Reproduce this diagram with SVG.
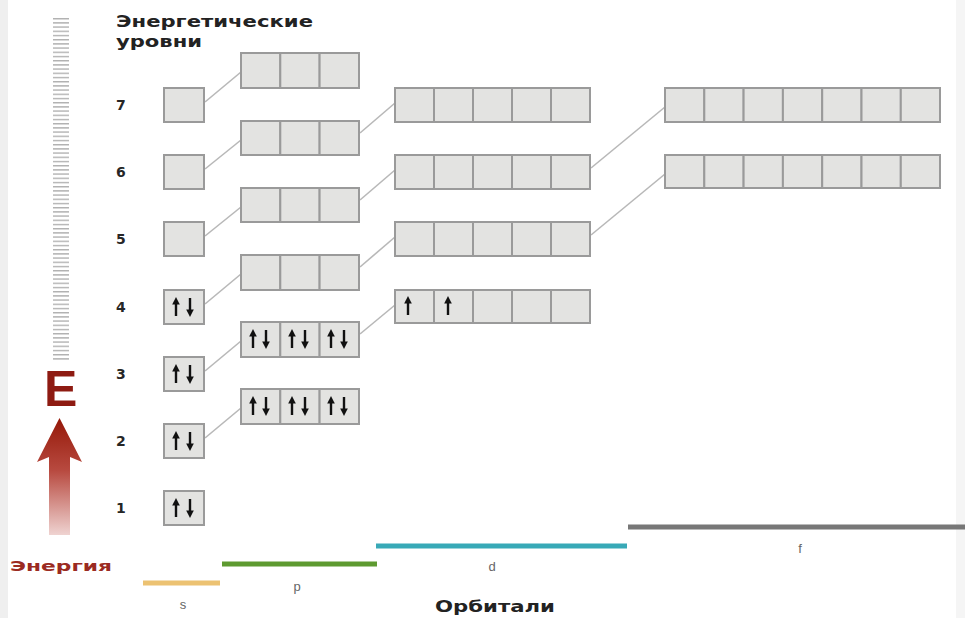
<svg xmlns="http://www.w3.org/2000/svg" xmlns:xlink="http://www.w3.org/1999/xlink" width="965" height="618" viewBox="0 0 965 618">
<style>
.c{fill:#e3e3e1;stroke:#9a9a9a;stroke-width:2}
.cn{stroke:#b8b8b8;stroke-width:1.6;fill:none}
.lv{font-family:"DejaVu Sans","Liberation Sans",Arial,sans-serif;font-weight:bold;font-size:14px;fill:#262626}
.ol{font-family:"Liberation Sans",Arial,sans-serif;font-size:13px;fill:#666;text-anchor:middle}
.tt{font-family:"DejaVu Sans","Liberation Sans",Arial,sans-serif;font-weight:bold;fill:#222}
</style>
<defs>
<linearGradient id="arrowGrad" x1="0" y1="0" x2="0" y2="1">
<stop offset="0" stop-color="#951808"/>
<stop offset="0.45" stop-color="#b84a40"/>
<stop offset="1" stop-color="#efd3d1"/>
</linearGradient>
<pattern id="ticks" x="0" y="18" width="20" height="4.2" patternUnits="userSpaceOnUse">
<rect x="0" y="0" width="20" height="1.4" fill="#b0b0b0"/>
</pattern>
<g id="eu"><path d="M0,19 V5" stroke="#111" stroke-width="2.4"/><path d="M-3.8,7.5 L0,0 L3.8,7.5 Z" fill="#111"/></g>
<g id="ed"><path d="M0,0 V14" stroke="#111" stroke-width="2.4"/><path d="M-3.8,11.5 L0,19 L3.8,11.5 Z" fill="#111"/></g>
</defs>
<rect width="965" height="618" fill="#ffffff"/>
<rect x="0" y="0" width="8" height="618" fill="#efefef"/>
<rect x="956" y="0" width="9" height="618" fill="#f5f5f5"/>

<g id="energy-axis">
<rect x="53" y="18" width="16" height="344" fill="url(#ticks)"/>
<text x="44" y="406" style="font-family:'Liberation Sans',Arial,sans-serif;font-weight:bold;font-size:50px;fill:#8e1b12">E</text>
<path d="M59.5,418 L82,462 L70,457 L70,535 L49,535 L49,457 L37,462 Z" fill="url(#arrowGrad)"/>
<text x="10" y="571" textLength="102" lengthAdjust="spacingAndGlyphs" style="font-family:'DejaVu Sans','Liberation Sans',Arial,sans-serif;font-weight:bold;font-size:14px;fill:#9b2b22">Энергия</text>
</g>

<g id="title">
<text class="tt" x="116" y="27" font-size="16" textLength="197" lengthAdjust="spacingAndGlyphs">Энергетические</text>
<text class="tt" x="116" y="47" font-size="16" textLength="86" lengthAdjust="spacingAndGlyphs">уровни</text>
</g>

<g id="levels">
<text class="lv" x="116" y="110">7</text>
<text class="lv" x="116" y="177">6</text>
<text class="lv" x="116" y="244">5</text>
<text class="lv" x="116" y="312">4</text>
<text class="lv" x="116" y="379">3</text>
<text class="lv" x="116" y="446">2</text>
<text class="lv" x="116" y="513">1</text>
</g>

<g id="connectors">
<line class="cn" x1="205" y1="102" x2="241" y2="72"/>
<line class="cn" x1="205" y1="169" x2="241" y2="140"/>
<line class="cn" x1="205" y1="236" x2="241" y2="207"/>
<line class="cn" x1="205" y1="304" x2="241" y2="274"/>
<line class="cn" x1="205" y1="371" x2="241" y2="341"/>
<line class="cn" x1="205" y1="438" x2="241" y2="408"/>
<line class="cn" x1="360" y1="133" x2="395" y2="103"/>
<line class="cn" x1="360" y1="200" x2="395" y2="170"/>
<line class="cn" x1="360" y1="267" x2="395" y2="237"/>
<line class="cn" x1="360" y1="334" x2="395" y2="305"/>
<line class="cn" x1="591" y1="168" x2="665" y2="107"/>
<line class="cn" x1="591" y1="235" x2="665" y2="174"/>
</g>

<g id="s7"><rect class="c" x="164" y="88" width="40" height="34"/></g>
<g id="s6"><rect class="c" x="164" y="155" width="40" height="34"/></g>
<g id="s5"><rect class="c" x="164" y="222" width="40" height="34"/></g>
<g id="s4"><rect class="c" x="164" y="290" width="40" height="34"/><use href="#eu" x="176" y="297"/><use href="#ed" x="190" y="298"/></g>
<g id="s3"><rect class="c" x="164" y="357" width="40" height="34"/><use href="#eu" x="176" y="364"/><use href="#ed" x="190" y="365"/></g>
<g id="s2"><rect class="c" x="164" y="424" width="40" height="34"/><use href="#eu" x="176" y="431"/><use href="#ed" x="190" y="432"/></g>
<g id="s1"><rect class="c" x="164" y="491" width="40" height="34"/><use href="#eu" x="176" y="498"/><use href="#ed" x="190" y="499"/></g>

<g id="p7"><rect class="c" x="241" y="53" width="39.3" height="35"/><rect class="c" x="280.3" y="53" width="39.3" height="35"/><rect class="c" x="319.6" y="53" width="39.4" height="35"/></g>
<g id="p6"><rect class="c" x="241" y="121" width="39.3" height="34"/><rect class="c" x="280.3" y="121" width="39.3" height="34"/><rect class="c" x="319.6" y="121" width="39.4" height="34"/></g>
<g id="p5"><rect class="c" x="241" y="188" width="39.3" height="34"/><rect class="c" x="280.3" y="188" width="39.3" height="34"/><rect class="c" x="319.6" y="188" width="39.4" height="34"/></g>
<g id="p4"><rect class="c" x="241" y="255" width="39.3" height="35"/><rect class="c" x="280.3" y="255" width="39.3" height="35"/><rect class="c" x="319.6" y="255" width="39.4" height="35"/></g>
<g id="p3"><rect class="c" x="241" y="322" width="39.3" height="35"/><rect class="c" x="280.3" y="322" width="39.3" height="35"/><rect class="c" x="319.6" y="322" width="39.4" height="35"/>
<use href="#eu" x="253" y="329"/><use href="#ed" x="266" y="330"/><use href="#eu" x="292" y="329"/><use href="#ed" x="305" y="330"/><use href="#eu" x="331" y="329"/><use href="#ed" x="344" y="330"/></g>
<g id="p2"><rect class="c" x="241" y="389" width="39.3" height="35"/><rect class="c" x="280.3" y="389" width="39.3" height="35"/><rect class="c" x="319.6" y="389" width="39.4" height="35"/>
<use href="#eu" x="253" y="396"/><use href="#ed" x="266" y="397"/><use href="#eu" x="292" y="396"/><use href="#ed" x="305" y="397"/><use href="#eu" x="331" y="396"/><use href="#ed" x="344" y="397"/></g>

<g id="d6"><rect class="c" x="395" y="88" width="39" height="34"/><rect class="c" x="434" y="88" width="39" height="34"/><rect class="c" x="473" y="88" width="39" height="34"/><rect class="c" x="512" y="88" width="39" height="34"/><rect class="c" x="551" y="88" width="39" height="34"/></g>
<g id="d5"><rect class="c" x="395" y="155" width="39" height="34"/><rect class="c" x="434" y="155" width="39" height="34"/><rect class="c" x="473" y="155" width="39" height="34"/><rect class="c" x="512" y="155" width="39" height="34"/><rect class="c" x="551" y="155" width="39" height="34"/></g>
<g id="d4"><rect class="c" x="395" y="222" width="39" height="34"/><rect class="c" x="434" y="222" width="39" height="34"/><rect class="c" x="473" y="222" width="39" height="34"/><rect class="c" x="512" y="222" width="39" height="34"/><rect class="c" x="551" y="222" width="39" height="34"/></g>
<g id="d3"><rect class="c" x="395" y="290" width="39" height="33"/><rect class="c" x="434" y="290" width="39" height="33"/><rect class="c" x="473" y="290" width="39" height="33"/><rect class="c" x="512" y="290" width="39" height="33"/><rect class="c" x="551" y="290" width="39" height="33"/>
<use href="#eu" x="408" y="296"/><use href="#eu" x="448" y="296"/></g>

<g id="f5"><rect class="c" x="665" y="88" width="39.3" height="34"/><rect class="c" x="704.3" y="88" width="39.3" height="34"/><rect class="c" x="743.6" y="88" width="39.3" height="34"/><rect class="c" x="782.9" y="88" width="39.3" height="34"/><rect class="c" x="822.2" y="88" width="39.3" height="34"/><rect class="c" x="861.5" y="88" width="39.3" height="34"/><rect class="c" x="900.8" y="88" width="39.2" height="34"/></g>
<g id="f4"><rect class="c" x="665" y="155" width="39.3" height="33"/><rect class="c" x="704.3" y="155" width="39.3" height="33"/><rect class="c" x="743.6" y="155" width="39.3" height="33"/><rect class="c" x="782.9" y="155" width="39.3" height="33"/><rect class="c" x="822.2" y="155" width="39.3" height="33"/><rect class="c" x="861.5" y="155" width="39.3" height="33"/><rect class="c" x="900.8" y="155" width="39.2" height="33"/></g>

<g id="orbital-scale">
<line x1="143" y1="583" x2="220" y2="583" stroke="#ecc272" stroke-width="5"/>
<line x1="222" y1="564" x2="377" y2="564" stroke="#5e9a30" stroke-width="5"/>
<line x1="376" y1="546" x2="627" y2="546" stroke="#38a9b7" stroke-width="5"/>
<line x1="628" y1="527" x2="965" y2="527" stroke="#777777" stroke-width="5"/>
<text class="ol" x="183" y="609">s</text>
<text class="ol" x="297" y="591">p</text>
<text class="ol" x="492" y="571">d</text>
<text class="ol" x="800" y="553">f</text>
<text class="tt" x="435" y="612" font-size="15" textLength="120" lengthAdjust="spacingAndGlyphs">Орбитали</text>
</g>
</svg>
